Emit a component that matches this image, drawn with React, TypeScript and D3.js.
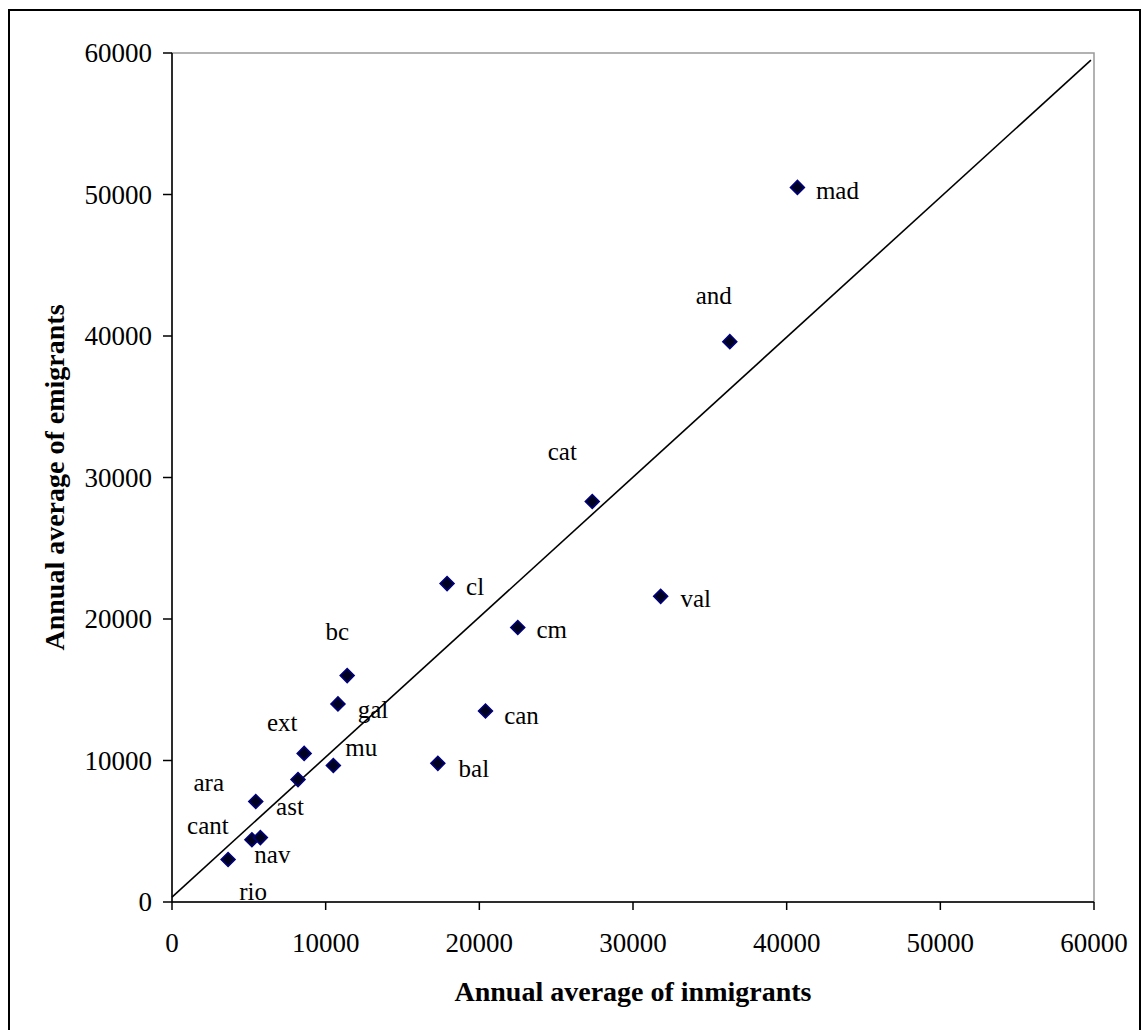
import * as d3 from 'd3';

// regions and their annual averages
const regions = ['mad', 'and', 'cat', 'val', 'cl', 'cm', 'can', 'bal', 'bc', 'gal', 'ext', 'mu', 'ast', 'ara', 'cant', 'nav', 'rio'];
const inmigrants = [40700, 36300, 27350, 31800, 17900, 22500, 20400, 17300, 11400, 10800, 8600, 10500, 8200, 5450, 5200, 5750, 3650];
const emigrants = [50500, 39600, 28300, 21600, 22500, 19400, 13500, 9800, 16000, 14000, 10500, 9650, 8650, 7100, 4400, 4550, 3000];

const xTicks = [0, 10000, 20000, 30000, 40000, 50000, 60000];
const yTicks = [0, 10000, 20000, 30000, 40000, 50000, 60000];

// fitted line end points
const lineX = [0, 59800];
const lineY = [350, 59500];

// where each data label sits relative to its marker (px)
const labelOffsets: Record<string, [number, number]> = {
  mad: [40, 3], and: [-16, -46], cat: [-30, -50], val: [35, 2], cl: [28, 3],
  cm: [34, 2], can: [36, 4], bal: [36, 5], bc: [-10, -44], gal: [35, 5],
  ext: [-22, -31], mu: [28, -18], ast: [-8, 27], ara: [-47, -19],
  cant: [-44, -14], nav: [12, 17], rio: [25, 32],
};

const W = 1142;
const H = 1030;
const left = 172;
const right = 1094;
const top = 53;
const bottom = 902;
const font = '"Liberation Serif", "Times New Roman", serif';

export default function App() {
  const x = d3.scaleLinear().domain([0, 60000]).range([left, right]);
  const y = d3.scaleLinear().domain([0, 60000]).range([bottom, top]);

  const diamond = d3.symbol(d3.symbolSquare, 98)()!;
  const line = d3.line<number>()
    .x((_, i) => x(lineX[i]))
    .y(d => y(d));

  return (
    <svg width={W} height={H} style={{ position: 'absolute', left: 0, top: 0, background: '#fff' }}
      fontFamily={font}>
      {/* outer chart border (open at the bottom, runs off the page) */}
      <rect x={9} y={10} width={1131} height={H + 20} fill="none" stroke="#000" strokeWidth={2} />

      {/* plot area border */}
      <rect x={left} y={top} width={right - left} height={bottom - top} fill="none" stroke="#999" strokeWidth={1.5} />

      {/* axes */}
      <line x1={left} x2={right} y1={bottom} y2={bottom} stroke="#000" strokeWidth={1.5} />
      <line x1={left} x2={left} y1={top} y2={bottom} stroke="#000" strokeWidth={1.5} />

      {yTicks.map(t => (
        <g key={'y' + t}>
          <line x1={left - 9} x2={left} y1={y(t)} y2={y(t)} stroke="#000" strokeWidth={1.5} />
          <text x={left - 20} y={y(t)} dy="0.35em" textAnchor="end" fontSize={27}>{t}</text>
        </g>
      ))}
      {xTicks.map(t => (
        <g key={'x' + t}>
          <line x1={x(t)} x2={x(t)} y1={bottom} y2={bottom + 8} stroke="#000" strokeWidth={1.5} />
          <text x={x(t)} y={952} textAnchor="middle" fontSize={27}>{t}</text>
        </g>
      ))}

      {/* fitted line */}
      <path d={line(lineY) ?? ''} fill="none" stroke="#000" strokeWidth={1.6} />

      {/* points */}
      {regions.map((r, i) => (
        <path key={r} d={diamond}
          transform={`translate(${x(inmigrants[i])},${y(emigrants[i])}) rotate(45)`}
          fill="#000022" stroke="#000080" strokeWidth={1.5} />
      ))}

      {/* data labels */}
      {regions.map((r, i) => {
        const [dx, dy] = labelOffsets[r];
        return (
          <text key={'l' + r} x={x(inmigrants[i]) + dx} y={y(emigrants[i]) + dy} dy="0.35em"
            textAnchor="middle" fontSize={25}>{r}</text>
        );
      })}

      {/* axis titles */}
      <text x={(left + right) / 2} y={1001} textAnchor="middle" fontSize={28} fontWeight="bold">
        Annual average of inmigrants
      </text>
      <text transform={`translate(64,${(top + bottom) / 2}) rotate(-90)`} textAnchor="middle"
        fontSize={28} fontWeight="bold">
        Annual average of emigrants
      </text>
    </svg>
  );
}
